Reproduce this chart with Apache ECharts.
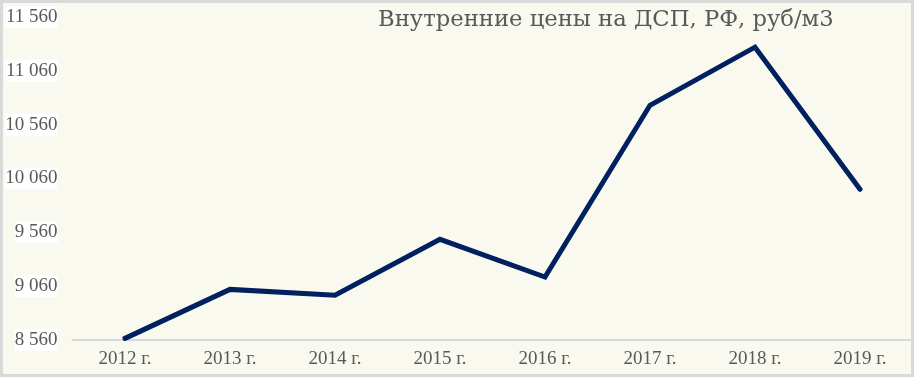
<!DOCTYPE html>
<html><head><meta charset="utf-8">
<script src="https://cdn.jsdelivr.net/npm/echarts@6/dist/echarts.min.js"></script>
<style>html,body{margin:0;padding:0;background:#f9f9ef}#c{width:914px;height:377px}</style>
</head><body><div id="c"></div>
<script>
const categories = ['2012 г.','2013 г.','2014 г.','2015 г.','2016 г.','2017 г.','2018 г.','2019 г.'];
const prices = [8575, 9030, 8975, 9495, 9145, 10740, 11280, 9960];
const yMin = 8560, yMax = 11560, yStep = 500;
const titleText = 'Внутренние цены на ДСП, РФ, руб/м3';
const fmt = v => String(v).replace(/\B(?=(\d{3})+(?!\d))/g, ' ');
const FONT = 'Liberation Serif';
const chart = echarts.init(document.getElementById('c'), null, {renderer:'canvas'});
chart.setOption({
  backgroundColor: '#f9f9ef',
  animation: false,
  title: { text: titleText, left: 373, top: 4,
    textStyle: { fontFamily: 'DejaVu Serif', fontSize: 22.7, fontWeight: 'normal', color: '#595959' } },
  grid: { left: 72.5, right: 1.5, top: 17, bottom: 37, containLabel: false },
  xAxis: { type: 'category', data: categories, boundaryGap: true,
    axisLine: { lineStyle: { color: '#d9d9d9', width: 2 } },
    axisTick: { show: false },
    axisLabel: { fontFamily: FONT, fontSize: 19, color: '#595959', margin: 10 } },
  yAxis: { type: 'value', min: yMin, max: yMax, interval: yStep,
    axisLine: { show: false }, axisTick: { show: false }, splitLine: { show: false },
    axisLabel: { fontFamily: FONT, fontSize: 19, color: '#595959', margin: 15,
      backgroundColor: '#ffffff', padding: [2, 0, 1, 0], formatter: fmt } },
  series: [{ type: 'line', data: prices, symbol: 'none',
    lineStyle: { color: '#002060', width: 5, cap: 'round', join: 'miter' } }],
  graphic: [{ type: 'rect', z: 100, silent: true,
    shape: { x: 1.5, y: 1.5, width: 911, height: 374 },
    style: { fill: 'none', stroke: '#d9d9d9', lineWidth: 3 } }]
});
</script></body></html>
